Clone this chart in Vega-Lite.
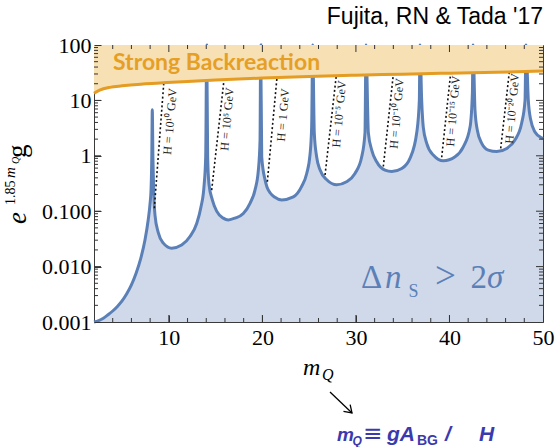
{
  "$schema": "https://vega.github.io/schema/vega-lite/v6.json",
  "width": 449,
  "height": 277,
  "autosize": {"type": "none"},
  "padding": {"left": 94, "top": 45, "right": 13, "bottom": 125},
  "background": "white",
  "view": {"stroke": "#3a3a3a", "strokeWidth": 1},
  "datasets": {
    "curve": [
      {"m": 2.0, "g": 0.001}, {"m": 2.5, "g": 0.00106}, {"m": 3.0, "g": 0.00117}, {"m": 3.5, "g": 0.00135},
      {"m": 4.0, "g": 0.00158}, {"m": 4.5, "g": 0.00191}, {"m": 5.0, "g": 0.0024}, {"m": 5.5, "g": 0.00324},
      {"m": 6.0, "g": 0.00468}, {"m": 6.5, "g": 0.00759}, {"m": 7.0, "g": 0.0141}, {"m": 7.45, "g": 0.0302},
      {"m": 7.8, "g": 0.0708}, {"m": 8.0, "g": 0.141}, {"m": 8.1, "g": 0.251}, {"m": 8.18, "g": 1.0},
      {"m": 8.23, "g": 6.8}, {"m": 8.3, "g": 0.9}, {"m": 8.38, "g": 0.24}, {"m": 8.52, "g": 0.085},
      {"m": 8.87, "g": 0.041}, {"m": 9.41, "g": 0.0265}, {"m": 10.3, "g": 0.0215}, {"m": 11.37, "g": 0.0245},
      {"m": 12.26, "g": 0.035}, {"m": 12.98, "g": 0.06}, {"m": 13.44, "g": 0.12}, {"m": 13.76, "g": 0.28},
      {"m": 13.94, "g": 0.96}, {"m": 14.05, "g": 100},
      {"m": 14.15, "g": 0.96}, {"m": 14.29, "g": 0.31}, {"m": 14.65, "g": 0.16}, {"m": 15.11, "g": 0.1},
      {"m": 15.82, "g": 0.075}, {"m": 16.36, "g": 0.0696}, {"m": 17.07, "g": 0.075}, {"m": 17.96, "g": 0.091},
      {"m": 18.68, "g": 0.139}, {"m": 19.21, "g": 0.24}, {"m": 19.57, "g": 0.55}, {"m": 19.75, "g": 1.93},
      {"m": 19.82, "g": 100},
      {"m": 19.93, "g": 0.96}, {"m": 20.3, "g": 0.36}, {"m": 20.5, "g": 0.27}, {"m": 20.82, "g": 0.215},
      {"m": 21.3, "g": 0.18}, {"m": 22.07, "g": 0.16}, {"m": 23.31, "g": 0.181}, {"m": 24.2, "g": 0.28},
      {"m": 24.74, "g": 0.48}, {"m": 25.09, "g": 1.04}, {"m": 25.27, "g": 3.4}, {"m": 25.38, "g": 100},
      {"m": 25.55, "g": 2.6}, {"m": 25.8, "g": 0.96}, {"m": 26.16, "g": 0.56}, {"m": 26.88, "g": 0.37},
      {"m": 27.95, "g": 0.3}, {"m": 29.0, "g": 0.34}, {"m": 29.9, "g": 0.48}, {"m": 30.62, "g": 0.96},
      {"m": 30.97, "g": 2.6}, {"m": 31.08, "g": 100},
      {"m": 31.33, "g": 2.6}, {"m": 31.69, "g": 1.27}, {"m": 32.22, "g": 0.78}, {"m": 33.11, "g": 0.55},
      {"m": 33.83, "g": 0.52}, {"m": 34.9, "g": 0.59}, {"m": 35.78, "g": 0.9}, {"m": 36.5, "g": 2.6},
      {"m": 36.78, "g": 10}, {"m": 36.85, "g": 100},
      {"m": 37.03, "g": 10}, {"m": 37.2, "g": 3.3}, {"m": 37.57, "g": 1.68}, {"m": 38.27, "g": 1.03},
      {"m": 39.34, "g": 0.81}, {"m": 40.6, "g": 0.96}, {"m": 41.48, "g": 1.45}, {"m": 42.2, "g": 3.3},
      {"m": 42.45, "g": 13.5}, {"m": 42.52, "g": 100},
      {"m": 42.73, "g": 6.7}, {"m": 42.98, "g": 2.9}, {"m": 43.45, "g": 1.68}, {"m": 44.15, "g": 1.27},
      {"m": 45.05, "g": 1.19}, {"m": 46.12, "g": 1.36}, {"m": 47.0, "g": 1.93}, {"m": 47.72, "g": 3.9},
      {"m": 48.08, "g": 10}, {"m": 48.18, "g": 100},
      {"m": 48.43, "g": 10}, {"m": 48.68, "g": 4.5}, {"m": 49.14, "g": 2.7}, {"m": 49.86, "g": 2.1},
      {"m": 50.0, "g": 2.05}
    ],
    "boundary": [
      {"m": 2.0, "g": 13.5}, {"m": 2.6, "g": 15.3}, {"m": 3.7, "g": 17.2}, {"m": 5.0, "g": 18.3},
      {"m": 7.0, "g": 19.6}, {"m": 8.7, "g": 20.4}, {"m": 12.0, "g": 22.0}, {"m": 15.0, "g": 23.3},
      {"m": 20.0, "g": 25.3}, {"m": 25.0, "g": 27.0}, {"m": 30.0, "g": 28.5}, {"m": 35.0, "g": 29.8},
      {"m": 40.0, "g": 31.0}, {"m": 45.0, "g": 32.2}, {"m": 50.0, "g": 34.0}
    ],
    "hlines": [
      {"H": "1e10", "m1": 8.45, "g1": 0.113, "m2": 9.46, "g2": 20.8},
      {"H": "1e5", "m1": 14.58, "g1": 0.24, "m2": 15.9, "g2": 23.6},
      {"H": "1", "m1": 20.53, "g1": 0.34, "m2": 21.56, "g2": 25.8},
      {"H": "1e-5", "m1": 26.7, "g1": 0.45, "m2": 27.9, "g2": 27.9},
      {"H": "1e-10", "m1": 32.93, "g1": 0.64, "m2": 34.0, "g2": 29.5},
      {"H": "1e-15", "m1": 39.17, "g1": 0.94, "m2": 40.13, "g2": 31.0},
      {"H": "1e-20", "m1": 45.48, "g1": 1.36, "m2": 46.4, "g2": 32.7}
    ],
    "hlabels": [
      {"m": 10.12, "g": 4.16, "label": "H = 10¹⁰ GeV"},
      {"m": 16.22, "g": 4.61, "label": "H = 10⁵ GeV"},
      {"m": 22.2, "g": 5.45, "label": "H = 1 GeV"},
      {"m": 28.19, "g": 5.68, "label": "H = 10⁻⁵ GeV"},
      {"m": 34.36, "g": 5.8, "label": "H = 10⁻¹⁰ GeV"},
      {"m": 40.38, "g": 6.44, "label": "H = 10⁻¹⁵ GeV"},
      {"m": 46.69, "g": 7.14, "label": "H = 10⁻²⁰ GeV"}
    ],
    "xmajor": [{"v": 10}, {"v": 20}, {"v": 30}, {"v": 40}],
    "xminor": [{"v": 4}, {"v": 6}, {"v": 8}, {"v": 12}, {"v": 14}, {"v": 16}, {"v": 18}, {"v": 22}, {"v": 24}, {"v": 26}, {"v": 28}, {"v": 32}, {"v": 34}, {"v": 36}, {"v": 38}, {"v": 42}, {"v": 44}, {"v": 46}, {"v": 48}],
    "ymajor": [{"v": 0.01}, {"v": 0.1}, {"v": 1}, {"v": 10}],
    "yminor": [{"v": 0.002}, {"v": 0.003}, {"v": 0.004}, {"v": 0.005}, {"v": 0.006}, {"v": 0.007}, {"v": 0.008}, {"v": 0.009},
      {"v": 0.02}, {"v": 0.03}, {"v": 0.04}, {"v": 0.05}, {"v": 0.06}, {"v": 0.07}, {"v": 0.08}, {"v": 0.09},
      {"v": 0.2}, {"v": 0.3}, {"v": 0.4}, {"v": 0.5}, {"v": 0.6}, {"v": 0.7}, {"v": 0.8}, {"v": 0.9},
      {"v": 2}, {"v": 3}, {"v": 4}, {"v": 5}, {"v": 6}, {"v": 7}, {"v": 8}, {"v": 9},
      {"v": 20}, {"v": 30}, {"v": 40}, {"v": 50}, {"v": 60}, {"v": 70}, {"v": 80}, {"v": 90}],
    "one": [{}]
  },
  "layer": [
    {
      "data": {"name": "curve"},
      "mark": {"type": "area", "fill": "#d0d9ea", "interpolate": "monotone"},
      "encoding": {
        "x": {"field": "m", "type": "quantitative", "scale": {"domain": [2, 50], "nice": false, "zero": false},
          "axis": {"orient": "bottom", "title": null, "grid": false, "domain": false, "zindex": 2,
            "values": [10, 20, 30, 40, 50], "offset": -7, "tickSize": 7, "tickColor": "#333", "tickWidth": 1,
            "labelFont": "Liberation Serif", "labelFontSize": 22, "labelColor": "#000",
            "labelPadding": 5, "labelFlush": false, "labelOverlap": false}},
        "y": {"field": "g", "type": "quantitative", "scale": {"type": "log", "domain": [0.001, 100], "nice": false},
          "axis": {"orient": "left", "title": null, "grid": false, "domain": false, "zindex": 2,
            "values": [0.001, 0.01, 0.1, 1, 10, 100], "tickSize": -7, "tickColor": "#333", "tickWidth": 1,
            "labelExpr": "datum.value < 1 ? format(datum.value, '.3f') : format(datum.value, 'd')",
            "labelFont": "Liberation Serif", "labelFontSize": 22, "labelColor": "#000",
            "labelPadding": 10, "labelFlush": false, "labelOverlap": false, "labelBaseline": "middle"}},
        "y2": {"datum": 0.001}
      }
    },
    {
      "data": {"name": "curve"},
      "mark": {"type": "line", "stroke": "#5b80b7", "strokeWidth": 3, "interpolate": "monotone"},
      "encoding": {
        "x": {"field": "m", "type": "quantitative"},
        "y": {"field": "g", "type": "quantitative"}
      }
    },
    {
      "data": {"name": "hlines"},
      "mark": {"type": "rule", "stroke": "#111", "strokeWidth": 1.6, "strokeDash": [2, 2.4]},
      "encoding": {
        "x": {"field": "m1", "type": "quantitative"},
        "y": {"field": "g1", "type": "quantitative"},
        "x2": {"field": "m2"},
        "y2": {"field": "g2"}
      }
    },
    {
      "data": {"name": "hlabels"},
      "mark": {"type": "text", "angle": 275, "align": "center", "baseline": "middle", "font": "Liberation Serif", "fontSize": 12, "fill": "#222"},
      "encoding": {
        "x": {"field": "m", "type": "quantitative"},
        "y": {"field": "g", "type": "quantitative"},
        "text": {"field": "label"}
      }
    },
    {
      "data": {"name": "boundary"},
      "mark": {"type": "area", "fill": "#f6e0b4", "interpolate": "monotone"},
      "encoding": {
        "x": {"field": "m", "type": "quantitative"},
        "y": {"field": "g", "type": "quantitative"},
        "y2": {"datum": 100}
      }
    },
    {
      "data": {"name": "boundary"},
      "mark": {"type": "line", "stroke": "#e59c22", "strokeWidth": 3, "interpolate": "monotone"},
      "encoding": {
        "x": {"field": "m", "type": "quantitative"},
        "y": {"field": "g", "type": "quantitative"}
      }
    },
    {
      "data": {"name": "xmajor"},
      "mark": {"type": "tick", "orient": "vertical", "size": 7, "thickness": 1, "yOffset": -3.5, "color": "#333", "opacity": 1},
      "encoding": {"x": {"field": "v", "type": "quantitative"}, "y": {"datum": 0.001, "type": "quantitative"}}
    },
    {
      "data": {"name": "xmajor"},
      "mark": {"type": "tick", "orient": "vertical", "size": 7, "thickness": 1, "yOffset": 3.5, "color": "#333", "opacity": 1},
      "encoding": {"x": {"field": "v", "type": "quantitative"}, "y": {"datum": 100, "type": "quantitative"}}
    },
    {
      "data": {"name": "xminor"},
      "mark": {"type": "tick", "orient": "vertical", "size": 4, "thickness": 1, "yOffset": -2, "color": "#333", "opacity": 1},
      "encoding": {"x": {"field": "v", "type": "quantitative"}, "y": {"datum": 0.001, "type": "quantitative"}}
    },
    {
      "data": {"name": "xminor"},
      "mark": {"type": "tick", "orient": "vertical", "size": 4, "thickness": 1, "yOffset": 2, "color": "#333", "opacity": 1},
      "encoding": {"x": {"field": "v", "type": "quantitative"}, "y": {"datum": 100, "type": "quantitative"}}
    },
    {
      "data": {"name": "ymajor"},
      "mark": {"type": "tick", "orient": "horizontal", "size": 7, "thickness": 1, "xOffset": 3.5, "color": "#333", "opacity": 1},
      "encoding": {"y": {"field": "v", "type": "quantitative"}, "x": {"datum": 2, "type": "quantitative"}}
    },
    {
      "data": {"name": "ymajor"},
      "mark": {"type": "tick", "orient": "horizontal", "size": 7, "thickness": 1, "xOffset": -3.5, "color": "#333", "opacity": 1},
      "encoding": {"y": {"field": "v", "type": "quantitative"}, "x": {"datum": 50, "type": "quantitative"}}
    },
    {
      "data": {"name": "yminor"},
      "mark": {"type": "tick", "orient": "horizontal", "size": 4, "thickness": 1, "xOffset": 2, "color": "#333", "opacity": 1},
      "encoding": {"y": {"field": "v", "type": "quantitative"}, "x": {"datum": 2, "type": "quantitative"}}
    },
    {
      "data": {"name": "yminor"},
      "mark": {"type": "tick", "orient": "horizontal", "size": 4, "thickness": 1, "xOffset": -2, "color": "#333", "opacity": 1},
      "encoding": {"y": {"field": "v", "type": "quantitative"}, "x": {"datum": 50, "type": "quantitative"}}
    },
    {
      "data": {"name": "one"},
      "mark": {"type": "text", "text": "Fujita, RN & Tada '17", "align": "right", "baseline": "alphabetic", "font": "Liberation Sans", "fontSize": 23, "fill": "#000"},
      "encoding": {"x": {"datum": 50, "type": "quantitative"}, "y": {"datum": 239, "type": "quantitative"}}
    },
    {
      "data": {"name": "one"},
      "mark": {"type": "text", "text": "Strong Backreaction", "align": "left", "baseline": "alphabetic", "font": "Lato", "fontWeight": "bold", "fontSize": 23, "fill": "#e69f25"},
      "encoding": {"x": {"datum": 4.03, "type": "quantitative"}, "y": {"datum": 35.4, "type": "quantitative"}}
    },
    {
      "data": {"name": "one"},
      "mark": {"type": "text", "text": "Δ", "align": "left", "baseline": "alphabetic", "font": "Liberation Serif", "fontSize": 33, "fill": "#5b80b7"},
      "encoding": {"x": {"datum": 30.54, "type": "quantitative"}, "y": {"datum": 0.00406, "type": "quantitative"}}
    },
    {
      "data": {"name": "one"},
      "mark": {"type": "text", "text": "n", "align": "left", "baseline": "alphabetic", "font": "Liberation Serif", "fontStyle": "italic", "fontSize": 33, "fill": "#5b80b7"},
      "encoding": {"x": {"datum": 33.1, "type": "quantitative"}, "y": {"datum": 0.00406, "type": "quantitative"}}
    },
    {
      "data": {"name": "one"},
      "mark": {"type": "text", "text": "S", "align": "left", "baseline": "alphabetic", "font": "Liberation Serif", "fontSize": 18, "fill": "#5b80b7"},
      "encoding": {"x": {"datum": 35.62, "type": "quantitative"}, "y": {"datum": 0.00283, "type": "quantitative"}}
    },
    {
      "data": {"name": "one"},
      "mark": {"type": "text", "text": ">", "align": "left", "baseline": "alphabetic", "font": "Liberation Serif", "fontSize": 37, "fill": "#5b80b7"},
      "encoding": {"x": {"datum": 38.45, "type": "quantitative"}, "y": {"datum": 0.00406, "type": "quantitative"}}
    },
    {
      "data": {"name": "one"},
      "mark": {"type": "text", "text": "2", "align": "left", "baseline": "alphabetic", "font": "Liberation Serif", "fontSize": 33, "fill": "#5b80b7"},
      "encoding": {"x": {"datum": 42.25, "type": "quantitative"}, "y": {"datum": 0.00406, "type": "quantitative"}}
    },
    {
      "data": {"name": "one"},
      "mark": {"type": "text", "text": "σ", "align": "left", "baseline": "alphabetic", "font": "Liberation Serif", "fontStyle": "italic", "fontSize": 33, "fill": "#5b80b7"},
      "encoding": {"x": {"datum": 44.0, "type": "quantitative"}, "y": {"datum": 0.00406, "type": "quantitative"}}
    },
    {
      "data": {"name": "one"},
      "mark": {"type": "text", "text": "e", "angle": 270, "align": "left", "baseline": "alphabetic", "font": "Liberation Serif", "fontStyle": "italic", "fontSize": 27, "fill": "#000"},
      "encoding": {"x": {"datum": -5.32, "type": "quantitative"}, "y": {"datum": 0.0588, "type": "quantitative"}}
    },
    {
      "data": {"name": "one"},
      "mark": {"type": "text", "text": "1.85", "angle": 270, "align": "left", "baseline": "alphabetic", "font": "Liberation Serif", "fontSize": 14, "fill": "#000"},
      "encoding": {"x": {"datum": -6.45, "type": "quantitative"}, "y": {"datum": 0.1294, "type": "quantitative"}}
    },
    {
      "data": {"name": "one"},
      "mark": {"type": "text", "text": "m", "angle": 270, "align": "left", "baseline": "alphabetic", "font": "Liberation Serif", "fontStyle": "italic", "fontSize": 15, "fill": "#000"},
      "encoding": {"x": {"datum": -6.45, "type": "quantitative"}, "y": {"datum": 0.397, "type": "quantitative"}}
    },
    {
      "data": {"name": "one"},
      "mark": {"type": "text", "text": "Q", "angle": 270, "align": "left", "baseline": "alphabetic", "font": "Liberation Serif", "fontStyle": "italic", "fontSize": 10, "fill": "#000"},
      "encoding": {"x": {"datum": -6.02, "type": "quantitative"}, "y": {"datum": 0.711, "type": "quantitative"}}
    },
    {
      "data": {"name": "one"},
      "mark": {"type": "text", "text": "g", "angle": 270, "align": "left", "baseline": "alphabetic", "font": "Liberation Serif", "fontSize": 27, "fill": "#000"},
      "encoding": {"x": {"datum": -5.32, "type": "quantitative"}, "y": {"datum": 0.912, "type": "quantitative"}}
    },
    {
      "data": {"name": "one"},
      "mark": {"type": "text", "text": "m", "align": "left", "baseline": "alphabetic", "font": "Liberation Serif", "fontStyle": "italic", "fontSize": 24, "fill": "#000"},
      "encoding": {"x": {"datum": 24.34, "type": "quantitative"}, "y": {"datum": 0.0001104, "type": "quantitative"}}
    },
    {
      "data": {"name": "one"},
      "mark": {"type": "text", "text": "Q", "align": "left", "baseline": "alphabetic", "font": "Liberation Serif", "fontStyle": "italic", "fontSize": 16, "fill": "#000"},
      "encoding": {"x": {"datum": 26.37, "type": "quantitative"}, "y": {"datum": 0.0000897, "type": "quantitative"}}
    },
    {
      "data": {"name": "one"},
      "mark": {"type": "rule", "stroke": "#000", "strokeWidth": 1.3},
      "encoding": {
        "x": {"datum": 27.23, "type": "quantitative"}, "y": {"datum": 0.0000545, "type": "quantitative"},
        "x2": {"datum": 29.58}, "y2": {"datum": 0.0000228}
      }
    },
    {
      "data": {"name": "one"},
      "mark": {"type": "point", "shape": "M-1.2,-0.8L0,0L-1.2,0.8", "angle": 44, "size": 144, "filled": false, "stroke": "#000", "strokeWidth": 1.3, "opacity": 1},
      "encoding": {"x": {"datum": 29.58, "type": "quantitative"}, "y": {"datum": 0.0000228, "type": "quantitative"}}
    },
    {
      "data": {"name": "one"},
      "mark": {"type": "text", "text": "m", "align": "left", "baseline": "alphabetic", "font": "Liberation Sans", "fontStyle": "italic", "fontWeight": "bold", "fontSize": 19, "fill": "#3a3aae"},
      "encoding": {"x": {"datum": 27.98, "type": "quantitative"}, "y": {"datum": 0.00000711, "type": "quantitative"}}
    },
    {
      "data": {"name": "one"},
      "mark": {"type": "text", "text": "Q", "align": "left", "baseline": "alphabetic", "font": "Liberation Sans", "fontStyle": "italic", "fontWeight": "bold", "fontSize": 12, "fill": "#3a3aae"},
      "encoding": {"x": {"datum": 29.64, "type": "quantitative"}, "y": {"datum": 0.00000603, "type": "quantitative"}}
    },
    {
      "data": {"name": "one"},
      "mark": {"type": "text", "text": "≡", "align": "left", "baseline": "alphabetic", "font": "DejaVu Sans", "fontSize": 23, "fill": "#3a3aae"},
      "encoding": {"x": {"datum": 30.76, "type": "quantitative"}, "y": {"datum": 0.00000711, "type": "quantitative"}}
    },
    {
      "data": {"name": "one"},
      "mark": {"type": "text", "text": "gA", "align": "left", "baseline": "alphabetic", "font": "Liberation Sans", "fontStyle": "italic", "fontWeight": "bold", "fontSize": 21, "fill": "#3a3aae"},
      "encoding": {"x": {"datum": 33.32, "type": "quantitative"}, "y": {"datum": 0.00000711, "type": "quantitative"}}
    },
    {
      "data": {"name": "one"},
      "mark": {"type": "text", "text": "BG", "align": "left", "baseline": "alphabetic", "font": "Liberation Sans", "fontWeight": "bold", "fontSize": 14, "fill": "#3a3aae"},
      "encoding": {"x": {"datum": 36.53, "type": "quantitative"}, "y": {"datum": 0.00000603, "type": "quantitative"}}
    },
    {
      "data": {"name": "one"},
      "mark": {"type": "text", "text": "/", "align": "left", "baseline": "alphabetic", "font": "Liberation Sans", "fontStyle": "italic", "fontWeight": "bold", "fontSize": 21, "fill": "#3a3aae"},
      "encoding": {"x": {"datum": 39.52, "type": "quantitative"}, "y": {"datum": 0.00000711, "type": "quantitative"}}
    },
    {
      "data": {"name": "one"},
      "mark": {"type": "text", "text": "H", "align": "left", "baseline": "alphabetic", "font": "Liberation Sans", "fontStyle": "italic", "fontWeight": "bold", "fontSize": 21, "fill": "#3a3aae"},
      "encoding": {"x": {"datum": 43.15, "type": "quantitative"}, "y": {"datum": 0.00000711, "type": "quantitative"}}
    }
  ]
}
